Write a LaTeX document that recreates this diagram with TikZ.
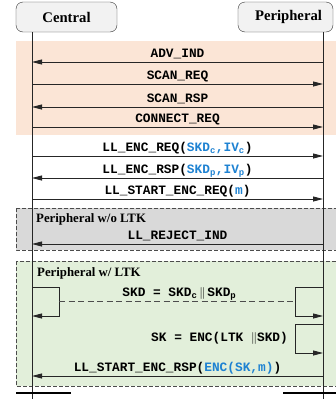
\documentclass[tikz,border=0pt]{standalone}
\usepackage{fontspec}
\setmainfont{Liberation Serif}
\setmonofont{Liberation Mono}
\usetikzlibrary{arrows.meta,positioning,calc}
\definecolor{advorange}{RGB}{251,229,214}
\definecolor{rejectgray}{RGB}{217,217,217}
\definecolor{ltkgreen}{RGB}{226,239,218}
\definecolor{keyblue}{RGB}{30,130,210}
\newcommand{\kb}[1]{\textcolor{keyblue}{#1}}

\begin{document}
\begin{tikzpicture}[
    x=1pt, y=-1pt,
    device/.style={rectangle, draw=black!80, fill=black!5, rounded corners=7pt, minimum height=30pt, inner sep=0pt, font=\fontsize{14.7}{16}\selectfont\bfseries},
    lifeline/.style={draw=black!85, line width=0.9pt},
    msgarrow/.style={draw=black!85, line width=0.9pt, -{Triangle[length=10pt,width=5pt]}},
    msglabel/.style={anchor=base, inner sep=0pt, font=\fontsize{12.8}{14}\selectfont\ttfamily\bfseries},
    phase/.style={draw=black!70, line width=0.8pt, dash pattern=on 4pt off 2pt},
    phasetitle/.style={anchor=west, inner sep=0pt, font=\fontsize{12.8}{14}\selectfont\bfseries},
    endbar/.style={line width=2.2pt}
]
\useasboundingbox (0,0) rectangle (335,399);

% Phases
\fill[advorange] (16,41) rectangle (345,135);
\draw[phase, fill=rejectgray] (16,208) rectangle (345,250);
\draw[phase, fill=ltkgreen] (16,261) rectangle (345,386);
\node[phasetitle] (t1) at (36,219) {Peripheral w/o LTK};
\node[phasetitle] (t2) at (37,273) {Peripheral w/ LTK};

% Devices
\node[device, minimum width=101pt] (central) at (66.5,17) {Central};
\node[device, minimum width=95pt] (periph) at (285.5,17) {\hspace{6pt}Peripheral};

% Lifelines
\coordinate (ctop) at (32,32);
\coordinate (ptop) at (323,32);
\coordinate (cbot) at (32,399);
\coordinate (pbot) at (323,399);
\draw[lifeline] (ctop) -- (cbot);
\draw[lifeline] (ptop) -- (pbot);

% Messages
\foreach \n/\y/\from/\to/\txt in {
    1/62/p/c/{ADV\_IND},
    2/84/c/p/{SCAN\_REQ},
    3/107/p/c/{SCAN\_RSP},
    4/127/c/p/{CONNECT\_REQ},
    5/156/c/p/{LL\_ENC\_REQ(\kb{SKD\textsubscript{c},IV\textsubscript{c}})},
    6/178/p/c/{LL\_ENC\_RSP(\kb{SKD\textsubscript{p},IV\textsubscript{p}})},
    7/199/c/p/{LL\_START\_ENC\_REQ(\kb{m})},
    8/244/p/c/{LL\_REJECT\_IND},
    9/376/p/c/{LL\_START\_ENC\_RSP(\kb{ENC(SK,m)})}} {
  \coordinate (c\n) at (32,\y);
  \coordinate (p\n) at (323,\y);
  \draw[msgarrow] (\from\n) -- (\to\n);
  \node[msglabel, yshift=4.5pt] (m\n) at ($(c\n)!0.5!(p\n)$) {\txt};
}

% Session key derivation
\coordinate (cs) at (32,287);
\coordinate (ce) at (32,316);
\coordinate (ps) at (323,287);
\coordinate (pe) at (323,316);
\coordinate (ks) at (323,324);
\coordinate (ke) at (323,353);
\draw[msgarrow] (cs) -- ++(27,0) coordinate (cr) |- (ce);
\draw[msgarrow] (ps) -- ++(-28,0) coordinate (pl) |- (pe);
\draw[msgarrow] (ks) -- ++(-28,0) coordinate (kl) |- (ke);
\coordinate (skdl) at ($(cr)!0.5!(cr|-ce)$);
\coordinate (skdr) at ($(pl)!0.5!(pl|-pe)$);
\draw[draw=black!70, line width=0.9pt, dash pattern=on 6pt off 3.5pt] (skdl) -- (skdr);
\node[msglabel, yshift=5pt] (skd) at ($(skdl)!0.51!(skdr)$) {SKD = SKD\textsubscript{c}$\,\|\,$SKD\textsubscript{p}};
\node[msglabel, anchor=east, inner sep=0pt] (sk) at ($(kl)!0.5!(kl|-ke)+(-7,0)$) {SK = ENC(LTK $\|$SKD)};

% Ends
\draw[endbar] (16,393) -- (71,393);
\draw[endbar] (283,393) -- (345,393);

\end{tikzpicture}
\end{document}
